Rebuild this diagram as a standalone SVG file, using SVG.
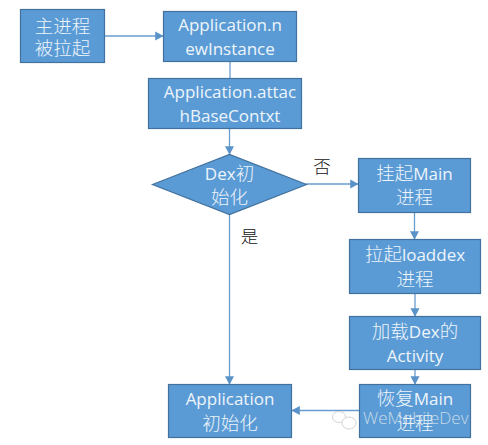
<svg xmlns="http://www.w3.org/2000/svg" width="488" height="445" viewBox="0 0 488 445">
<style>
.n{fill:#5b9bd5;stroke:#41719c;stroke-width:1.2}
.t{font-family:"Open Sans","Noto Sans CJK SC",sans-serif;font-size:17px;fill:#eef5fb;text-anchor:middle}
.z{font-family:"Noto Sans CJK SC",sans-serif;font-size:18.500px;font-weight:300}
.l{font-family:"Noto Sans CJK SC",sans-serif;font-size:17.500px;font-weight:300;fill:#111;text-anchor:middle}
.c{fill:none;stroke:#6a9dcf;stroke-width:1.3}
</style>
<defs><marker id="a" markerWidth="7" markerHeight="7" refX="6" refY="3.500" orient="auto"><path d="M0 0L6.500 3.500L0 7z" fill="#5b93c9"/></marker></defs>
<rect width="488" height="445" fill="#fff"/>
<g id="connectors">
<path class="c" marker-end="url(#a)" d="M104 36H163"/>
<path class="c" d="M230 61V78"/>
<path class="c" marker-end="url(#a)" d="M229.500 128V154"/>
<path class="c" marker-end="url(#a)" d="M306 184H358"/>
<path class="c" marker-end="url(#a)" d="M229.500 214V384"/>
<path class="c" marker-end="url(#a)" d="M414.500 212V239"/>
<path class="c" marker-end="url(#a)" d="M415 293V316"/>
<path class="c" marker-end="url(#a)" d="M415 370V384"/>
<path class="c" marker-end="url(#a)" d="M359 410.500H292"/>
</g>
<g id="n1"><rect class="n" x="20.500" y="9.500" width="84" height="53"/><text class="t z" x="62.500" y="32.500">主进程</text><text class="t z" x="62.500" y="55">被拉起</text></g>
<g id="n2"><rect class="n" x="163.500" y="11.500" width="133" height="50"/><text class="t" x="230" y="31">Application.n</text><text class="t" x="230" y="55">ewInstance</text></g>
<g id="n3"><rect class="n" x="148.500" y="78.500" width="153" height="50"/><text class="t" x="230" y="98">Application.attac</text><text class="t" x="230" y="122">hBaseContxt</text></g>
<g id="n4"><path class="n" d="M152.500 184.500L229.500 154.500L306.500 184.500L229.500 214.500Z"/><text class="t" x="229.500" y="180">Dex<tspan class="z">初</tspan></text><text class="t z" x="229.500" y="204">始化</text></g>
<g id="n5"><rect class="n" x="358.500" y="158.500" width="112" height="54"/><text class="t" x="414.500" y="180"><tspan class="z">挂起</tspan>Main</text><text class="t z" x="414.500" y="204">进程</text></g>
<g id="n6"><rect class="n" x="349.500" y="239.500" width="131" height="54"/><text class="t" x="415" y="261"><tspan class="z">拉起</tspan>loaddex</text><text class="t z" x="415" y="286">进程</text></g>
<g id="n7"><rect class="n" x="349.500" y="316.500" width="131" height="53"/><text class="t" x="415" y="338"><tspan class="z">加载</tspan>Dex<tspan class="z">的</tspan></text><text class="t" x="415" y="362">Activity</text></g>
<g id="n8"><rect class="n" x="359.500" y="384.500" width="111" height="53"/><text class="t" x="415" y="405"><tspan class="z">恢复</tspan>Main</text><text class="t z" x="415" y="430">进程</text></g>
<g id="n9"><rect class="n" x="168.500" y="384.500" width="123" height="53"/><text class="t" x="230" y="405">Application</text><text class="t z" x="230" y="430">初始化</text></g>
<text class="l" x="322" y="173">否</text>
<text class="l" x="249.500" y="243">是</text>
<g id="watermark">
<ellipse cx="339" cy="417" rx="6.500" ry="5.500" fill="#fff" stroke="#d4d4d4"/>
<ellipse cx="349" cy="423" rx="7" ry="6" fill="#fff" stroke="#d4d4d4"/>
<text x="363" y="424" font-family="'Open Sans',sans-serif" font-size="17" font-weight="300" fill="#dfe6ec" fill-opacity="0.85">WeMobileDev</text>
</g>
</svg>
